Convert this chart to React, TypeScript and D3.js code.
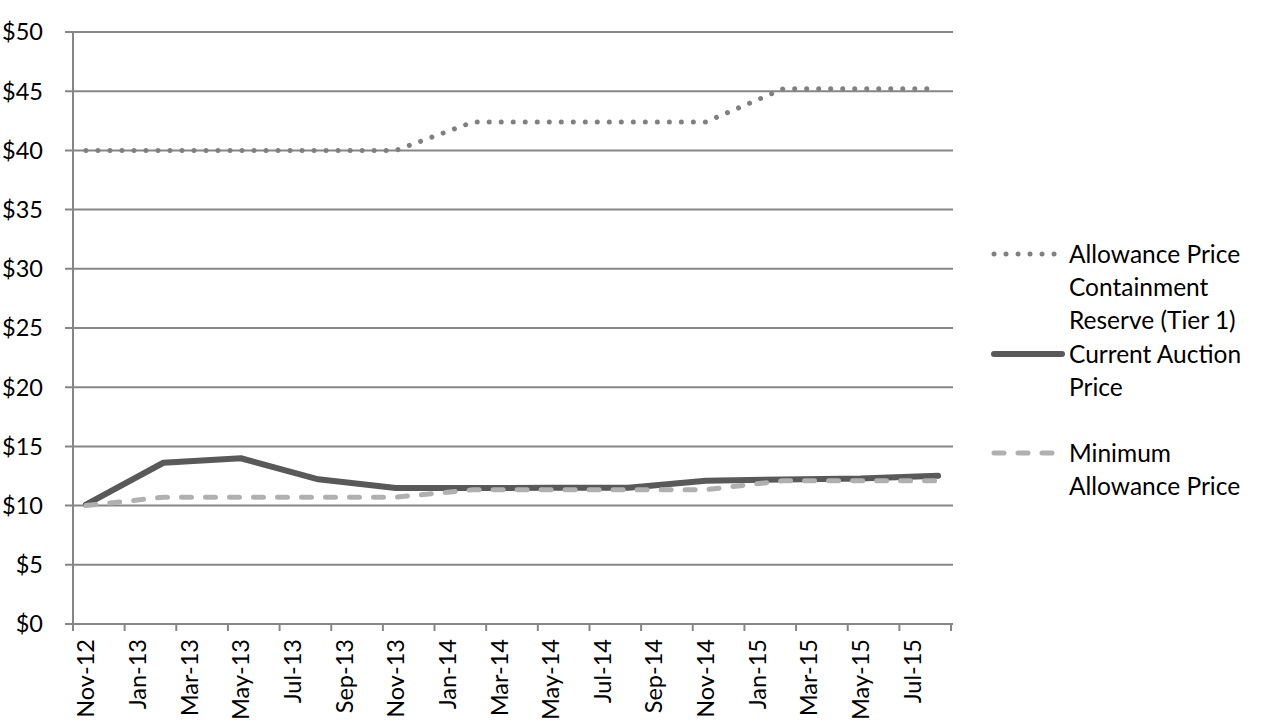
import React from "react";
import * as d3 from "d3";

const months = [
  "Nov-12","Dec-12","Jan-13","Feb-13","Mar-13","Apr-13","May-13","Jun-13","Jul-13","Aug-13","Sep-13","Oct-13",
  "Nov-13","Dec-13","Jan-14","Feb-14","Mar-14","Apr-14","May-14","Jun-14","Jul-14","Aug-14","Sep-14","Oct-14",
  "Nov-14","Dec-14","Jan-15","Feb-15","Mar-15","Apr-15","May-15","Jun-15","Jul-15","Aug-15",
];
const auctionMonths = ["Nov-12","Feb-13","May-13","Aug-13","Nov-13","Feb-14","May-14","Aug-14","Nov-14","Feb-15","May-15","Aug-15"];
const reservePrice = [40, 40, 40, 40, 40, 42.4, 42.4, 42.4, 42.4, 45.2, 45.2, 45.2];
const auctionPrice = [10.09, 13.62, 14.0, 12.22, 11.48, 11.48, 11.5, 11.5, 12.1, 12.21, 12.29, 12.52];
const minimumPrice = [10.0, 10.71, 10.71, 10.71, 10.71, 11.34, 11.34, 11.34, 11.34, 12.1, 12.1, 12.1];
const yTicks = [0, 5, 10, 15, 20, 25, 30, 35, 40, 45, 50];

const seriesDefs = [
  { name: ["Allowance Price", "Containment", "Reserve (Tier 1)"], values: reservePrice, color: "#808080", width: 5, dash: "0.01 12", legendY: [254, 287, 320], symY: 254, symX2: 1058 },
  { name: ["Current Auction", "Price"], values: auctionPrice, color: "#595959", width: 6, dash: "", legendY: [354, 387], symY: 354, symX2: 1062 },
  { name: ["Minimum", "Allowance Price"], values: minimumPrice, color: "#b0b0b0", width: 5, dash: "10 14", legendY: [453, 486], symY: 453, symX2: 1058 },
];

const FONT = "Lato, 'Open Sans', sans-serif";

export default function App() {
  const x = d3.scaleLinear().domain([0, months.length]).range([73, 951]);
  const y = d3.scaleLinear().domain([0, 50]).range([624, 32]);
  const cx = (m: string) => x(months.indexOf(m) + 0.5);
  const line = d3
    .line<number>()
    .x((_, i) => cx(auctionMonths[i]))
    .y((v) => y(v));

  const tickIdx = d3.range(0, months.length + 1, 2);
  const labelIdx = d3.range(0, months.length, 2);

  return (
    <svg width={1268} height={728} style={{ position: "absolute", left: 0, top: 0, background: "#fff" }}>
      {yTicks.map((t) => (
        <line key={"g" + t} x1={65} x2={953} y1={y(t)} y2={y(t)} stroke="#868686" strokeWidth={2} />
      ))}
      <line x1={73} x2={73} y1={y(50)} y2={y(0)} stroke="#868686" strokeWidth={2} />
      {yTicks.map((t) => (
        <text key={"yl" + t} x={43} y={y(t)} dy="0.36em" textAnchor="end" fontFamily={FONT} fontSize={23.5} fill="#000">
          ${t}
        </text>
      ))}
      {tickIdx.map((i) => (
        <line key={"xt" + i} x1={x(i)} x2={x(i)} y1={y(0)} y2={y(0) + 7} stroke="#868686" strokeWidth={2} />
      ))}
      {labelIdx.map((i) => {
        const px = x(i + 0.5);
        return (
          <text
            key={"xl" + i}
            transform={`translate(${px},${639}) rotate(-90)`}
            dy="0.36em"
            textAnchor="end"
            fontFamily={FONT}
            fontSize={23.5}
            fill="#000"
          >
            {months[i]}
          </text>
        );
      })}
      {seriesDefs.map((s, k) => (
        <path
          key={"s" + k}
          d={line(s.values) || ""}
          fill="none"
          stroke={s.color}
          strokeWidth={s.width}
          strokeDasharray={s.dash || undefined}
          strokeLinecap="round"
          strokeLinejoin="round"
        />
      ))}
      {seriesDefs.map((s, k) => (
        <g key={"lg" + k}>
          <line
            x1={994}
            x2={s.symX2}
            y1={s.symY}
            y2={s.symY}
            stroke={s.color}
            strokeWidth={s.width}
            strokeDasharray={s.dash || undefined}
            strokeLinecap="round"
          />
          {s.name.map((n, j) => (
            <text key={j} x={1069} y={s.legendY[j]} dy="0.36em" fontFamily={FONT} fontSize={24.5} fill="#000">
              {n}
            </text>
          ))}
        </g>
      ))}
    </svg>
  );
}
